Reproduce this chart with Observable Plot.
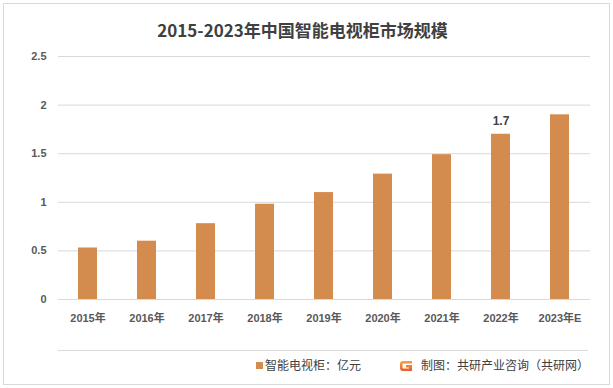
<!DOCTYPE html>
<html>
<head>
<meta charset="utf-8">
<script src="https://cdn.jsdelivr.net/npm/d3@7"></script>
<script src="https://cdn.jsdelivr.net/npm/@observablehq/plot@0.6"></script>
<style>
  html, body { margin: 0; padding: 0; background: #fff; }
  #wrap { position: relative; width: 613px; height: 388px; overflow: hidden; background: #fff;
          font-family: "Liberation Sans", "Noto Sans CJK SC", sans-serif; }
  #frame { position: absolute; left: 3px; top: 3px; width: 605px; height: 380px; border: 1px solid #d9d9d9; box-sizing: content-box; }
  #title { position: absolute; left: 0; top: 18px; width: 605px; text-align: center; font-size: 17px; font-weight: bold;
           color: #404040; font-family: "Noto Sans CJK SC", sans-serif; line-height: 24px; }
  #chart { position: absolute; left: 0; top: 45px; }
  #sep { position: absolute; left: 58px; top: 350px; width: 530px; height: 1px; background: #d9d9d9; }
  .leg { position: absolute; top: 356px; font-size: 12px; line-height: 18px; color: #404040; font-family: "Noto Sans CJK SC", sans-serif; white-space: nowrap; }
  #sw { position: absolute; left: 256px; top: 362px; width: 7px; height: 7px; background: #d48b4e; }
  #logo { position: absolute; left: 399px; top: 360px; }
</style>
</head>
<body>
<div id="wrap">
  <div id="frame"></div>
  <div id="title"></div>
  <div id="chart"></div>
  <div id="sep"></div>
  <div id="sw"></div>
  <div class="leg" id="leg1" style="left:265px"></div>
  <svg id="logo" width="14" height="12" viewBox="0 0 14 12">
    <defs>
      <linearGradient id="lg" x1="0" y1="0" x2="0" y2="1">
        <stop offset="0" stop-color="#f9a63c"/>
        <stop offset="1" stop-color="#e95a2b"/>
      </linearGradient>
    </defs>
    <path d="M13 1 H4 Q1 1 1 4 V8 Q1 11 4 11 H13 V5 H7 V7.5 H10 V8.5 H4.5 Q3.5 8.5 3.5 7.5 V4.5 Q3.5 3.5 4.5 3.5 H13 Z" fill="url(#lg)"/>
  </svg>
  <div class="leg" id="leg2" style="left:421px"></div>
</div>
<script>
const titleText = "2015-2023年中国智能电视柜市场规模";
const years = ["2015年", "2016年", "2017年", "2018年", "2019年", "2020年", "2021年", "2022年", "2023年E"];
const values = [0.53, 0.60, 0.78, 0.98, 1.10, 1.29, 1.49, 1.70, 1.90];
const labeledYears = ["2022年"];
const yTicks = [0, 0.5, 1, 1.5, 2, 2.5];
const seriesName = "智能电视柜：亿元";
const sourceText = "制图：共研产业咨询（共研网）";

document.getElementById("title").textContent = titleText;
document.getElementById("leg1").textContent = seriesName;
document.getElementById("leg2").textContent = sourceText;

const data = years.map((year, i) => ({year, value: values[i]}));

const chart = Plot.plot({
  width: 613,
  height: 305,
  marginLeft: 58,
  marginRight: 23,
  marginTop: 11,
  marginBottom: 51,
  style: {
    fontFamily: '"Liberation Sans", "Noto Sans CJK SC", sans-serif',
    fontSize: "11px",
    fontWeight: "bold",
    color: "#595959",
    background: "transparent"
  },
  x: {domain: years, paddingInner: 0.67, paddingOuter: 0.335, label: null},
  y: {domain: [0, 2.5], label: null},
  marks: [
    Plot.ruleY(yTicks, {stroke: "#d9d9d9", strokeWidth: 1}),
    Plot.barY(data, {x: "year", y: "value", fill: "#d48b4e"}),
    Plot.text(data.filter(d => labeledYears.includes(d.year)), {
      x: "year", y: "value", text: d => String(d.value), dy: -13,
      fontSize: 12, fontWeight: "bold", fill: "#404040"
    }),
    Plot.axisX({tickSize: 0, tickPadding: 15, fontSize: 11, fontWeight: "bold"}),
    Plot.axisY({ticks: yTicks, tickSize: 0, tickPadding: 12, tickFormat: d => String(d), fontSize: 11, fontWeight: "bold"})
  ]
});
document.getElementById("chart").appendChild(chart);
</script>
</body>
</html>
